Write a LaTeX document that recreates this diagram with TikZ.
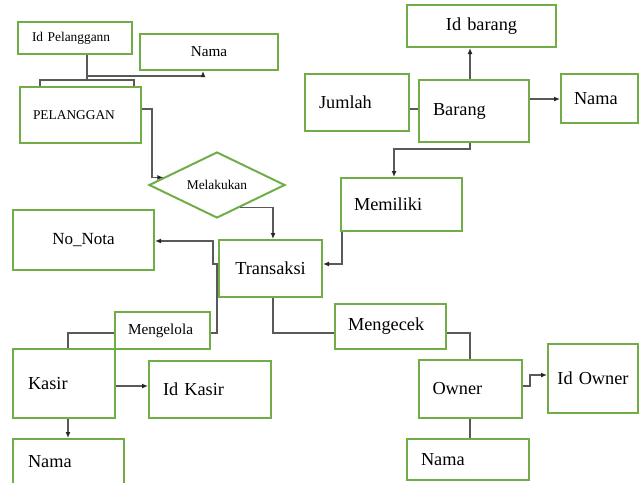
\documentclass[tikz,border=0pt]{standalone}
\usepackage{fontspec}
\setmainfont{Liberation Serif}
\usetikzlibrary{shapes.geometric,arrows.meta,positioning}
\definecolor{hijau}{HTML}{70AD47}
\definecolor{abu}{HTML}{595959}
\newcommand{\hurufbesar}{\fontsize{18.3}{21}\selectfont}
\newcommand{\hurufsedang}{\fontsize{15.2}{18}\selectfont}
\newcommand{\hurufkecil}{\fontsize{13.4}{16}\selectfont}

\begin{document}
\begin{tikzpicture} [
        x = 1pt, y = -1pt,
        >={Latex[length=6pt, width=5pt, color=black!85]},
        kotak/.style = { draw = hijau, line width = 2pt, inner ysep = 0pt, align = left, font = \hurufbesar },
        garis/.style = { draw = abu, line width = 1.2pt },
        relasi/.style = { draw = hijau, line width = 2pt, diamond, aspect = 2.06, inner sep = 0pt,
                          minimum width = 136pt, minimum height = 66pt, font = \hurufkecil }
        ]
        \useasboundingbox (0,0) rectangle (639,482);

        % entitas pelanggan
        \node [kotak, font = \hurufkecil, inner xsep = 14pt, text width = 86pt, minimum height = 32pt] (idpel) at (75,38) {Id Pelanggann};
        \node [kotak, font = \hurufsedang, align = center, inner xsep = 0pt, text width = 138pt, minimum height = 36pt] (namapel) at (209,52) {Nama};
        \node [kotak, font = \hurufkecil, inner xsep = 13pt, text width = 95pt, minimum height = 56pt] (pelanggan) at (80.5,115) {PELANGGAN};
        \node [relasi] (melakukan) at (217,185) {Melakukan};

        % entitas barang
        \node [kotak, align = center, inner xsep = 0pt, text width = 149pt, minimum height = 42pt] (idbarang) at (481.5,26) {Id barang};
        \node [kotak, inner xsep = 14pt, text width = 76pt, minimum height = 57pt] (jumlah) at (357,102.5) {Jumlah};
        \node [kotak, inner xsep = 14pt, text width = 82pt, minimum height = 62pt] (barang) at (474,111) {Barang};
        \node [kotak, inner xsep = 13pt, text width = 51pt, minimum height = 49pt] (namabrg) at (599.5,98.5) {Nama};
        \node [kotak, inner xsep = 13pt, text width = 95pt, minimum height = 53pt] (memiliki) at (401.5,204.5) {Memiliki};

        % transaksi
        \node [kotak, font = {\fontsize{17}{20}\selectfont}, align = center, inner xsep = 0pt, text width = 141pt, minimum height = 60pt] (nonota) at (83.5,240) {No\_Nota};
        \node [kotak, align = center, inner xsep = 0pt, text width = 103pt, minimum height = 57pt] (transaksi) at (270.5,268.5) {Transaksi};

        % entitas kasir
        \node [kotak, font = \hurufsedang, inner xsep = 13pt, text width = 69pt, minimum height = 37pt] (mengelola) at (162.5,330.5) {Mengelola};
        \node [kotak, inner xsep = 15pt, text width = 72pt, minimum height = 69pt] (kasir) at (64,383.5) {Kasir};
        \node [kotak, inner xsep = 14pt, text width = 94pt, minimum height = 57pt] (idkasir) at (210,389.5) {Id Kasir};
        \node [kotak, inner xsep = 15pt, text width = 81pt, minimum height = 46pt] (namakasir) at (68.5,462) {Nama};

        % entitas owner
        \node [kotak, inner xsep = 13pt, text width = 85pt, minimum height = 45pt] (mengecek) at (390.5,326.5) {Mengecek};
        \node [kotak, inner xsep = 14pt, text width = 75pt, minimum height = 58pt] (owner) at (470,389) {Owner};
        \node [kotak, align = center, inner xsep = 0pt, text width = 90pt, minimum height = 69pt] (idowner) at (593,378.5) {Id Owner};
        \node [kotak, inner xsep = 14pt, text width = 94pt, minimum height = 41pt] (namaowner) at (468,459.5) {Nama};

        % garis penghubung
        \draw [garis] (idpel.south -| 87,0) -- (87,80);
        \draw [garis] (pelanggan.north -| 40,0) -- (40,80) -- (134,80) -- (pelanggan.north -| 134,0);
        \draw [garis, ->] (87,76) -| (namapel.south -| 203,0);
        \draw [garis, ->] (pelanggan.east |- 0,109) -| (melakukan.172 -| 152,0) -- (melakukan.172);
        \draw [garis, ->] (melakukan.-45) -| (transaksi.north -| 273,0);
        \draw [garis, ->] (transaksi.west |- 0,264) -- (213,264) |- (nonota.east |- 0,241);
        \draw [garis] (transaksi.west |- 0,264) -| (217,333) -- (mengelola.east |- 0,333);
        \draw [garis] (mengelola.west |- 0,333) -| (kasir.north -| 68,0);
        \draw [garis, ->] (kasir.east |- 0,386) -- (idkasir.west |- 0,386);
        \draw [garis, ->] (kasir.south -| 68,0) -- (namakasir.north -| 68,0);
        \draw [garis] (transaksi.south -| 273,0) |- (mengecek.west |- 0,333);
        \draw [garis] (mengecek.east |- 0,333) -| (owner.north);
        \draw [garis, ->] (owner.east |- 0,386) -- (530,386) |- (idowner.west |- 0,375);
        \draw [garis] (owner.south) -- (namaowner.north -| owner.south);
        \draw [garis, ->] (barang.north -| 470,0) -- (idbarang.south -| 470,0);
        \draw [garis] (jumlah.east |- 0,109) -- (barang.west |- 0,109);
        \draw [garis, ->] (barang.east |- 0,99) -- (namabrg.west |- 0,99);
        \draw [garis, ->] (barang.south -| 470,0) -- (470,149) -| (memiliki.north -| 394,0);
        \draw [garis, ->] (memiliki.south -| 342,0) |- (transaksi.east |- 0,264);
    \end{tikzpicture}
\end{document}
